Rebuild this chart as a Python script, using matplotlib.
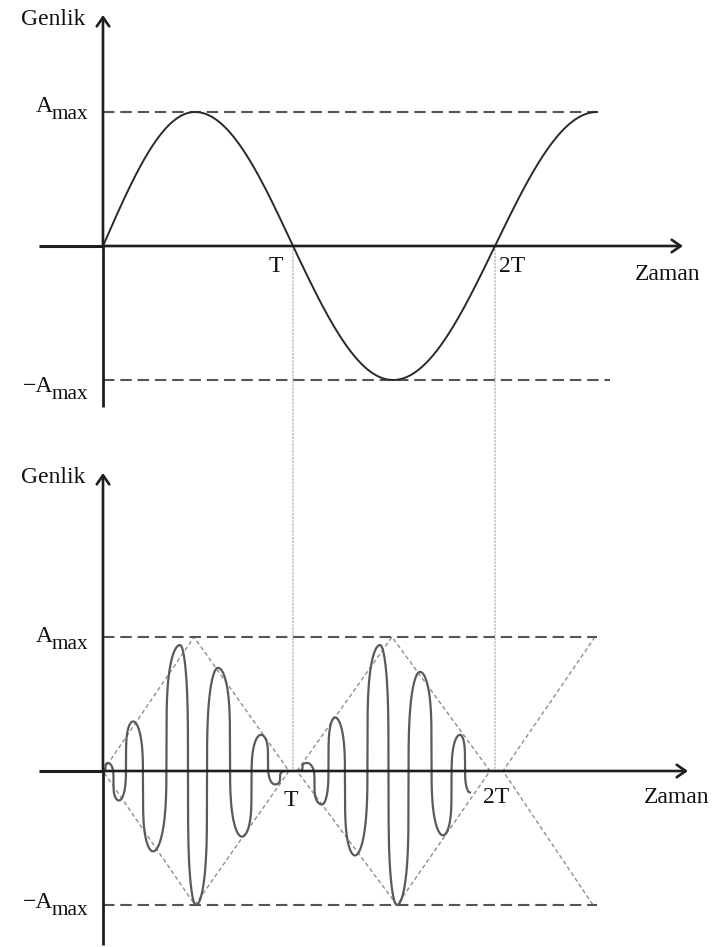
import numpy as np
import matplotlib
matplotlib.use("Agg")
import matplotlib.pyplot as plt
from matplotlib.patches import ConnectionPatch

# ---------------- data (time in drawing units, amplitude in units of A_max) ----------------
T1 = 190          # time of "T"
T2 = 392          # time of "2T"

# top panel: pure sine, key points (time, phase in multiples of pi)
top_key_t = [0, 92, 190, 290, 392, 494]
top_key_phase = [0.0, 0.5, 1.0, 1.5, 2.0, 2.5]

# bottom panel: modulated carrier, successive extrema (time, amplitude)
car1_t = [0, 5, 16, 30, 50, 77, 93, 115, 139, 158, 172, 182]
car1_a = [0, 0.06, -0.22, 0.37, -0.60, 0.94, -1.00, 0.77, -0.49, 0.27, -0.10, 0.0]
car2_t = [195, 204, 219, 232, 252, 277, 294, 317, 340, 357, 367]
car2_a = [0, 0.06, -0.25, 0.40, -0.63, 0.94, -1.00, 0.74, -0.48, 0.27, -0.16]

# envelope (dashed) polylines
env1_t = [0, 91, 186, 92, 0]
env1_a = [0, 1, 0, -1, 0]
env2_t = [194, 289, 387, 294, 194]
env2_a = [0, 1, 0, -1, 0]
env3_t = [492, 400, 490]
env3_a = [1, 0, -1]

# reference lines
top_amax_end = 494
top_nmax_end = 507
bot_amax_end = 494
bot_nmax_end = 494

tick_labels = ["T", "2T"]
y_label = "Genlik"
x_label = "Zaman"

# ---------------- figure ----------------
W, H = 716, 947
fig = plt.figure(figsize=(W / 100, H / 100), dpi=100)
SERIF = ["Liberation Serif", "DejaVu Serif"]
FS = 17
AX_COL = "#1e1e1e"

ORIGIN_PX = 103
XL = (-ORIGIN_PX, W - ORIGIN_PX)
SCALE = 134.0  # px per A_max

def make_axes(top_px, bot_px, zero_px):
    ax = fig.add_axes([0, 1 - bot_px / H, 1, (bot_px - top_px) / H])
    ax.set_xlim(*XL)
    ax.set_ylim(-(bot_px - zero_px) / SCALE, (zero_px - top_px) / SCALE)
    ax.axis("off")
    return ax

ax1 = make_axes(0, 440, 246)
ax2 = make_axes(450, 947, 771)

def arrow(ax, start, tip):
    ax.annotate("", xy=tip, xytext=start,
                arrowprops=dict(arrowstyle="->,head_length=0.65,head_width=0.45",
                                lw=1.9, color=AX_COL, shrinkA=0, shrinkB=0),
                zorder=5)

def amax_label(ax, y, neg=False):
    a_txt = "\u2212A" if neg else "A"
    ax.annotate(a_txt, xy=(-50, y), xycoords="data", ha="right", va="baseline",
                fontsize=FS, family=SERIF, color="#111")
    ax.annotate("max", xy=(-51, y), xycoords="data", xytext=(0, -5),
                textcoords="offset points", ha="left", va="baseline",
                fontsize=FS * 0.9, family=SERIF, color="#111")

def smooth_path(ts, vs, p=0.26, n=80):
    xs, ys = [], []
    for i in range(len(ts) - 1):
        t = np.linspace(0, 1, n)
        u = -np.cos(np.pi * t)
        s = 0.5 + 0.5 * np.sign(u) * np.abs(u) ** p
        xs.append(ts[i] + (ts[i + 1] - ts[i]) * t)
        ys.append(vs[i] + (vs[i + 1] - vs[i]) * s)
    return np.concatenate(xs), np.concatenate(ys)

# ---------------- top panel ----------------
tt = np.linspace(top_key_t[0], top_key_t[-1], 800)
ph = np.interp(tt, top_key_t, top_key_phase)
ax1.plot(tt, np.sin(np.pi * ph), color="#2a2a2a", lw=1.4, zorder=3)

ax1.plot([0, top_amax_end], [1, 1], color="#555", lw=1.5, dashes=(5.5, 2.8), zorder=2)
ax1.plot([0, top_nmax_end], [-1, -1], color="#555", lw=1.5, dashes=(5.5, 2.8), zorder=2)

ax1.plot([0, 0], [-(407 - 246) / SCALE, 0], color=AX_COL, lw=2.0, solid_capstyle="butt")
arrow(ax1, (0, 0), (0, (246 - 15) / SCALE))
ax1.plot([-64, 0], [0, 0], color=AX_COL, lw=2.2, solid_capstyle="butt")
arrow(ax1, (0, 0), (580, 0))

ax1.text(-18, (246 - 25) / SCALE, y_label, ha="right", va="baseline", fontsize=FS, family=SERIF, color="#111")
ax1.text(565, (246 - 280) / SCALE, x_label, ha="center", va="baseline", fontsize=FS, family=SERIF, color="#111")
ax1.text(T1 - 17, (246 - 272) / SCALE, tick_labels[0], ha="center", va="baseline", fontsize=FS, family=SERIF, color="#111")
ax1.text(T2 + 17, (246 - 272) / SCALE, tick_labels[1], ha="center", va="baseline", fontsize=FS, family=SERIF, color="#111")
amax_label(ax1, (246 - 112) / SCALE)
amax_label(ax1, (246 - 392) / SCALE, neg=True)

# ---------------- bottom panel ----------------
for et, ea in [(env1_t, env1_a), (env2_t, env2_a), (env3_t, env3_a)]:
    ax2.plot(et, ea, color="#8f8f8f", lw=1.0, dashes=(3, 2), zorder=2)

for ct, ca in [(car1_t, car1_a), (car2_t, car2_a)]:
    cx, cy = smooth_path(ct, ca)
    ax2.plot(cx, cy, color="#5a5a5a", lw=1.6, zorder=3)

ax2.plot([0, bot_amax_end], [1, 1], color="#555", lw=1.5, dashes=(5.5, 2.8), zorder=2)
ax2.plot([0, bot_nmax_end], [-1, -1], color="#555", lw=1.5, dashes=(5.5, 2.8), zorder=2)

ax2.plot([0, 0], [-(945 - 771) / SCALE, 0], color=AX_COL, lw=2.0, solid_capstyle="butt")
arrow(ax2, (0, 0), (0, (771 - 473) / SCALE))
ax2.plot([-64, 0], [0, 0], color=AX_COL, lw=2.2, solid_capstyle="butt")
arrow(ax2, (0, 0), (585, 0))

ax2.text(-18, (771 - 483) / SCALE, y_label, ha="right", va="baseline", fontsize=FS, family=SERIF, color="#111")
ax2.text(574, (771 - 803) / SCALE, x_label, ha="center", va="baseline", fontsize=FS, family=SERIF, color="#111")
ax2.text(T1 - 2, (771 - 806) / SCALE, tick_labels[0], ha="center", va="baseline", fontsize=FS, family=SERIF, color="#111")
ax2.text(T2 + 1, (771 - 803) / SCALE, tick_labels[1], ha="center", va="baseline", fontsize=FS, family=SERIF, color="#111")
amax_label(ax2, (771 - 642) / SCALE)
amax_label(ax2, (771 - 908) / SCALE, neg=True)

# dotted connectors between panels
for tx in (T1, T2):
    con = ConnectionPatch(xyA=(tx, 0), coordsA=ax1.transData,
                          xyB=(tx, 0), coordsB=ax2.transData,
                          color="#b5b5b5", lw=1.0, linestyle=(0, (1, 1.5)), zorder=0)
    fig.add_artist(con)

fig.savefig("out.png", dpi=100, facecolor="white")
